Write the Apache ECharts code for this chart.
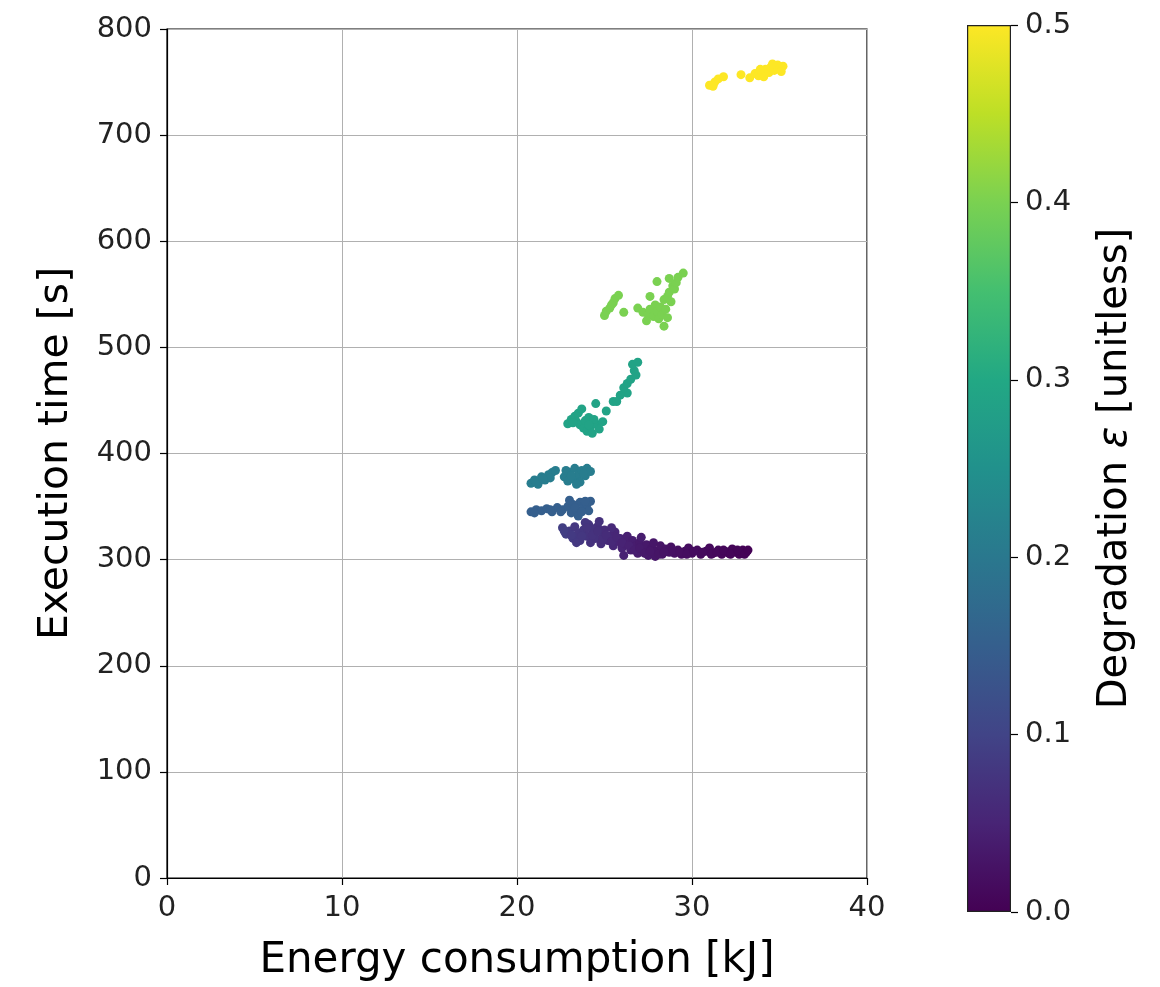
<!DOCTYPE html>
<html>
<head>
<meta charset="utf-8">
<script src="https://cdn.jsdelivr.net/npm/echarts@6/dist/echarts.min.js"></script>
<style>
  html, body { margin: 0; padding: 0; background: #fff; }
  #chart { width: 1160px; height: 987px; }
</style>
</head>
<body>
<div id="chart"></div>
<script>
  // [energy kJ, time s, degradation]
  const band000 = [
    [22.6, 330, 0.09], [22.8, 324, 0.09], [23.0, 327, 0.085], [23.2, 320, 0.085], [23.3, 331, 0.08],
    [23.5, 325, 0.08], [23.6, 318, 0.08], [23.8, 328, 0.078], [24.0, 322, 0.075], [24.1, 333, 0.075],
    [24.2, 316, 0.072], [24.4, 326, 0.07], [24.5, 320, 0.07], [24.6, 331, 0.068], [24.8, 315, 0.065],
    [24.9, 324, 0.065], [25.0, 328, 0.062], [25.2, 318, 0.06], [25.3, 322, 0.058], [25.5, 313, 0.055],
    [25.6, 326, 0.055], [25.8, 317, 0.052], [25.9, 320, 0.05], [26.0, 311, 0.048], [26.2, 315, 0.046],
    [26.3, 322, 0.045], [26.5, 309, 0.043], [26.6, 318, 0.042], [26.8, 313, 0.04], [26.9, 306, 0.038],
    [27.0, 316, 0.037], [27.2, 310, 0.035], [27.4, 314, 0.034], [27.5, 304, 0.033], [27.7, 311, 0.031],
    [27.8, 316, 0.03], [28.0, 308, 0.029], [28.2, 313, 0.028], [28.3, 305, 0.027], [28.5, 310, 0.025],
    [28.7, 307, 0.024], [28.8, 312, 0.023], [29.0, 306, 0.022], [29.2, 309, 0.02], [29.4, 305, 0.019],
    [29.6, 308, 0.018], [29.8, 311, 0.017], [30.0, 306, 0.016], [30.3, 309, 0.015], [30.5, 305, 0.014],
    [30.8, 308, 0.013], [31.0, 311, 0.012], [31.2, 306, 0.011], [31.5, 309, 0.01], [31.7, 305, 0.009],
    [31.9, 308, 0.008], [32.1, 306, 0.007], [32.3, 310, 0.006], [32.5, 307, 0.005], [32.7, 305, 0.004],
    [32.9, 309, 0.003], [33.1, 307, 0.002], [24.3, 329, 0.073], [23.9, 335, 0.078], [25.4, 330, 0.06],
    [26.1, 304, 0.047], [27.1, 321, 0.04], [27.9, 303, 0.03], [24.7, 336, 0.07], [23.4, 316, 0.082],
    [22.7, 327, 0.09], [23.1, 323, 0.085], [23.7, 322, 0.08], [24.0, 330, 0.075], [24.3, 323, 0.072],
    [24.6, 327, 0.068], [24.9, 319, 0.065], [25.1, 323, 0.062], [25.4, 317, 0.058], [25.7, 321, 0.054],
    [26.0, 316, 0.049], [26.4, 313, 0.045], [26.7, 309, 0.041], [27.0, 311, 0.037], [27.3, 306, 0.034],
    [27.6, 308, 0.032], [28.1, 305, 0.028], [28.4, 307, 0.026], [28.9, 309, 0.022], [29.3, 307, 0.02],
    [29.7, 305, 0.018], [30.1, 308, 0.016], [30.6, 307, 0.014], [31.1, 305, 0.012], [31.4, 307, 0.01],
    [31.8, 309, 0.009], [32.2, 305, 0.007], [32.6, 309, 0.005], [33.0, 305, 0.003], [33.2, 309, 0.001]
  ]
  const band015 = [
    [20.8, 345, 0.15], [21.1, 347, 0.15], [21.4, 346, 0.15], [21.7, 348, 0.15], [22.0, 345, 0.15],
    [22.3, 349, 0.15], [22.6, 347, 0.15], [22.9, 350, 0.15], [23.1, 344, 0.15], [23.2, 352, 0.15],
    [23.4, 347, 0.15], [23.6, 354, 0.15], [23.8, 349, 0.15], [24.0, 352, 0.15], [24.2, 355, 0.15],
    [23.5, 341, 0.15], [23.0, 356, 0.15], [24.1, 346, 0.15], [21.0, 344, 0.15], [21.9, 347, 0.15],
    [23.3, 349, 0.15], [23.7, 345, 0.15], [23.9, 355, 0.15], [22.5, 345, 0.15]
  ]
  const band021 = [
    [20.8, 372, 0.21], [21.0, 375, 0.21], [21.2, 371, 0.21], [21.4, 378, 0.21], [21.6, 375, 0.21],
    [21.8, 380, 0.21], [22.0, 382, 0.21], [21.9, 377, 0.21], [22.2, 384, 0.21],
    [22.7, 378, 0.21], [22.9, 374, 0.21], [23.0, 382, 0.21], [23.2, 376, 0.21], [23.3, 386, 0.21],
    [23.5, 380, 0.21], [23.6, 373, 0.21], [23.7, 384, 0.21], [23.9, 379, 0.21], [24.0, 386, 0.21],
    [24.2, 383, 0.21], [23.4, 371, 0.21], [22.8, 384, 0.21], [21.1, 373, 0.21], [21.5, 376, 0.21],
    [23.1, 379, 0.21], [23.8, 381, 0.21]
  ]
  const band030 = [
    [22.9, 428, 0.29], [23.1, 432, 0.29], [23.3, 435, 0.29], [23.5, 438, 0.29], [23.4, 430, 0.29],
    [23.6, 427, 0.29], [23.8, 424, 0.29], [23.9, 431, 0.29], [24.0, 421, 0.29], [24.2, 425, 0.29],
    [24.3, 419, 0.29], [24.1, 434, 0.29], [24.5, 428, 0.29], [24.7, 423, 0.29], [24.9, 430, 0.29],
    [23.7, 442, 0.29], [24.5, 447, 0.29], [25.1, 440, 0.29], [25.5, 449, 0.29], [26.3, 457, 0.29],
    [25.9, 455, 0.29], [26.1, 462, 0.29], [26.3, 466, 0.29], [26.5, 470, 0.29], [26.7, 478, 0.29],
    [26.6, 484, 0.29], [26.9, 486, 0.29], [26.8, 474, 0.29], [25.7, 449, 0.29], [24.4, 432, 0.29],
    [24.1, 427, 0.29], [23.2, 429, 0.29]
  ]
  const band040 = [
    [25.0, 530, 0.4], [25.1, 534, 0.4], [25.3, 537, 0.4], [25.5, 542, 0.4], [25.6, 546, 0.4],
    [25.8, 549, 0.4], [26.1, 533, 0.4], [25.4, 540, 0.4],
    [26.9, 537, 0.4], [27.2, 533, 0.4], [27.5, 531, 0.4], [27.6, 536, 0.4], [27.8, 529, 0.4],
    [27.9, 540, 0.4], [28.0, 534, 0.4], [28.1, 527, 0.4], [28.2, 538, 0.4], [28.3, 531, 0.4],
    [28.4, 545, 0.4], [28.5, 536, 0.4], [28.6, 548, 0.4], [28.7, 552, 0.4], [28.8, 543, 0.4],
    [28.9, 558, 0.4], [29.0, 555, 0.4], [29.1, 561, 0.4], [29.2, 566, 0.4], [28.7, 565, 0.4],
    [29.5, 570, 0.4], [28.4, 520, 0.4], [27.6, 548, 0.4], [28.0, 562, 0.4], [27.4, 525, 0.4],
    [28.6, 528, 0.4]
  ]
  const band050 = [
    [31.0, 747, 0.5], [31.3, 750, 0.5], [31.5, 753, 0.5], [31.8, 755, 0.5], [31.2, 746, 0.5],
    [32.8, 757, 0.5], [33.3, 754, 0.5], [33.6, 758, 0.5], [33.8, 756, 0.5], [34.0, 760, 0.5],
    [34.2, 762, 0.5], [34.4, 759, 0.5], [34.5, 764, 0.5], [34.7, 761, 0.5], [34.9, 766, 0.5],
    [35.0, 763, 0.5], [35.2, 765, 0.5], [34.1, 755, 0.5], [33.9, 762, 0.5], [34.6, 767, 0.5],
    [35.1, 760, 0.5]
  ]
  const viridis = ['#440154', '#482475', '#414487', '#355f8d', '#2a788e', '#21918c',
    '#22a884', '#44bf70', '#7ad151', '#bddf26', '#fde725']
  const xTicks = [0, 10, 20, 30, 40]
  const yTicks = [0, 100, 200, 300, 400, 500, 600, 700, 800]

  const allPts = [].concat(band000, band015, band021, band030, band040, band050)
  const font = 'DejaVu Sans'

  const chart = echarts.init(document.getElementById('chart'))
  const gradStops = viridis.map((c, i) => ({ offset: i / (viridis.length - 1), color: c }))

  const option = {
    backgroundColor: '#fff',
    animation: false,
    textStyle: { fontFamily: font },
    grid: [
      { left: 167, top: 29, width: 700, height: 853, show: true, borderColor: '#000', borderWidth: 1.2 },
      { left: 967, top: 25, width: 44, height: 887 }
    ],
    xAxis: [
      {
        type: 'value', gridIndex: 0,
        min: xTicks[0], max: xTicks[xTicks.length - 1], interval: 10,
        name: 'Energy consumption [kJ]', nameLocation: 'middle', nameGap: 62,
        nameTextStyle: { fontSize: 42, color: '#000', fontFamily: font },
        axisLine: { show: true, lineStyle: { color: '#000', width: 1.2 } },
        axisTick: { show: true, inside: false, length: 7, lineStyle: { color: '#000', width: 1.2 } },
        axisLabel: { fontSize: 29, color: '#222', margin: 16, fontFamily: font },
        splitLine: { show: true, lineStyle: { color: '#b0b0b0', width: 1 } }
      },
      { type: 'category', gridIndex: 1, data: ['cb'], show: false }
    ],
    yAxis: [
      {
        type: 'value', gridIndex: 0,
        min: yTicks[0], max: yTicks[yTicks.length - 1], interval: 100,
        name: 'Execution time [s]', nameLocation: 'middle', nameGap: 90, nameRotate: 90,
        nameTextStyle: { fontSize: 41, color: '#000', fontFamily: font },
        axisLine: { show: true, lineStyle: { color: '#000', width: 1.2 } },
        axisTick: { show: true, inside: false, length: 7, lineStyle: { color: '#000', width: 1.2 } },
        axisLabel: { fontSize: 29, color: '#222', margin: 15, fontFamily: font },
        splitLine: { show: true, lineStyle: { color: '#b0b0b0', width: 1 } }
      },
      {
        type: 'value', gridIndex: 1, position: 'right',
        min: 0, max: 0.5, interval: 0.1,
        name: '{a|Degradation }{e|ε}{a| [unitless]}', nameLocation: 'middle', nameGap: 85, nameRotate: 90,
        nameTextStyle: {
          fontSize: 40, color: '#000', fontFamily: font,
          rich: {
            a: { fontSize: 40, color: '#000', fontFamily: font },
            e: { fontSize: 40, color: '#000', fontFamily: font, fontStyle: 'italic' }
          }
        },
        axisLine: { show: false },
        axisTick: { show: true, inside: false, length: 7, lineStyle: { color: '#000', width: 1.2 } },
        axisLabel: { fontSize: 29, color: '#222', margin: 14, fontFamily: font, formatter: v => v.toFixed(1) },
        splitLine: { show: false }
      }
    ],
    visualMap: {
      type: 'continuous', show: false, seriesIndex: 0, dimension: 2,
      min: 0, max: 0.5, inRange: { color: viridis }
    },
    series: [
      {
        type: 'scatter', xAxisIndex: 0, yAxisIndex: 0,
        symbolSize: 9, data: allPts,
        itemStyle: { opacity: 1 }
      },
      {
        type: 'bar', xAxisIndex: 1, yAxisIndex: 1,
        barWidth: '100%', data: [0.5], silent: true,
        itemStyle: {
          color: new echarts.graphic.LinearGradient(0, 1, 0, 0, gradStops),
          borderColor: '#222', borderWidth: 1.2
        }
      }
    ]
  }
  chart.setOption(option)
</script>
</body>
</html>
